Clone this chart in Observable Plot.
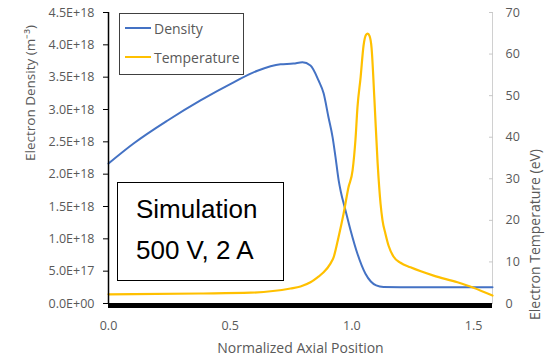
<!DOCTYPE html>
<html>
<head>
<meta charset="utf-8">
<script src="https://cdn.jsdelivr.net/npm/d3@7"></script>
<script src="https://cdn.jsdelivr.net/npm/@observablehq/plot@0.6"></script>
<style>
  html, body { margin: 0; padding: 0; background: #fff; }
  #wrap { position: relative; width: 545px; height: 364px; overflow: hidden; font-family: "Open Sans", sans-serif; }
  .legend { position: absolute; left: 119px; top: 13px; width: 123px; height: 60px; border: 1px solid #404040; background: #fff; }
  .legend .row { position: absolute; left: 5px; height: 20px; display: flex; align-items: center; font-size: 14px; color: #595959; }
  .legend .sw { width: 26px; height: 2px; margin-right: 3px; }
  .sim { position: absolute; left: 117px; top: 182px; width: 165px; height: 97px; border: 1.5px solid #000; background: #fff; font-family: "Liberation Sans", Arial, sans-serif; font-size: 26px; color: #000; }
  .sim div { position: absolute; left: 18px; white-space: nowrap; }
</style>
</head>
<body>
<div id="wrap"></div>
<script>
// ---- data ----
const densX = [0.0, 0.103, 0.243, 0.378, 0.514, 0.612, 0.707, 0.760, 0.797, 0.830, 0.863, 0.884, 0.904, 0.921, 0.933, 0.946, 0.954, 0.974, 0.995, 1.023, 1.056, 1.078, 1.100, 1.130, 1.27, 1.40, 1.578];
const densY = [2.165e18, 2.474e18, 2.83e18, 3.14e18, 3.42e18, 3.60e18, 3.70e18, 3.71e18, 3.73e18, 3.68e18, 3.45e18, 3.25e18, 2.88e18, 2.57e18, 2.26e18, 1.90e18, 1.74e18, 1.44e18, 1.13e18, 0.77e18, 0.46e18, 0.34e18, 0.28e18, 0.255e18, 0.25e18, 0.25e18, 0.25e18];
const tempX = [0.0, 0.378, 0.584, 0.748, 0.789, 0.830, 0.859, 0.884, 0.912, 0.925, 0.945, 0.966, 0.986, 1.003, 1.015, 1.023, 1.036, 1.048, 1.058, 1.065, 1.073, 1.081, 1.093, 1.106, 1.118, 1.126, 1.138, 1.151, 1.171, 1.200, 1.241, 1.336, 1.434, 1.500, 1.578];
const tempY = [2.2, 2.4, 2.6, 3.6, 4.1, 5.1, 6.3, 7.5, 9.6, 11.1, 15.9, 21.6, 27.9, 32.0, 39.5, 47.1, 54.4, 62.0, 64.6, 64.9, 64.3, 61.5, 48.8, 33.7, 24.0, 20.0, 16.8, 13.9, 11.3, 9.8, 8.7, 6.7, 5.1, 3.8, 1.9];
const seriesNames = ["Density", "Temperature"];
const seriesColors = ["#4472C4", "#FFC000"];
const densTicks = [0, 5e17, 1e18, 1.5e18, 2e18, 2.5e18, 3e18, 3.5e18, 4e18, 4.5e18];
const densTickLabels = ["0.0E+00", "5.0E+17", "1.0E+18", "1.5E+18", "2.0E+18", "2.5E+18", "3.0E+18", "3.5E+18", "4.0E+18", "4.5E+18"];
const tempTicks = [0, 10, 20, 30, 40, 50, 60, 70];
const xTicks = [0, 0.5, 1.0, 1.5];
const xTickLabels = ["0.0", "0.5", "1.0", "1.5"];
const xLabel = "Normalized Axial Position";
const yLeftLabel = "Electron Density (m\u207B\u00B3)";
const yRightLabel = "Electron Temperature (eV)";
const annotation = ["Simulation", "500 V, 2 A"];

// ---- build ----
const xMax = 1.578, yMax = 4.5e18, tMax = 70;
const k = yMax / tMax; // temperature -> density-axis units
const dens = densX.map((x, i) => ({x, y: densY[i]}));
const temp = tempX.map((x, i) => ({x, y: tempY[i] * k}));
const densLabel = new Map(densTicks.map((v, i) => [v, densTickLabels[i]]));
const xLab = new Map(xTicks.map((v, i) => [v, xTickLabels[i]]));
const gray = "#595959";

const chart = Plot.plot({
  width: 545, height: 364,
  marginLeft: 108, marginRight: 53, marginTop: 12, marginBottom: 61,
  style: {fontFamily: "'Open Sans', sans-serif", background: "#fff"},
  x: {domain: [0, xMax], axis: null},
  y: {domain: [0, yMax], axis: null},
  marks: [
    Plot.ruleX([xMax], {stroke: "#d0d0d0", strokeWidth: 1}),
    Plot.axisY({anchor: "right", ticks: tempTicks.map(t => t * k), tickSize: 4, dx: -4, text: null, stroke: "#c8c8c8", label: null}),
    Plot.axisY({anchor: "right", ticks: tempTicks.map(t => t * k), tickFormat: v => String(Math.round(v / k)), tickSize: 0, tickPadding: 13, fontSize: 12.5, fill: gray, label: null}),
    Plot.axisY({anchor: "left", ticks: densTicks, tickSize: 5, text: null, stroke: "#000", label: null}),
    Plot.axisY({anchor: "left", ticks: densTicks, tickFormat: v => densLabel.get(v), tickSize: 0, tickPadding: 14, fontSize: 12.5, fill: gray, label: null}),
    Plot.axisX({ticks: xTicks, tickFormat: v => xLab.get(v), tickSize: 0, tickPadding: 18, fontSize: 12.5, fill: gray, label: null}),
    Plot.line(dens, {x: "x", y: "y", stroke: seriesColors[0], strokeWidth: 2, curve: "monotone-x"}),
    Plot.line(temp, {x: "x", y: "y", stroke: seriesColors[1], strokeWidth: 2.2, curve: "monotone-x"}),
    Plot.ruleX([0], {stroke: "#000", strokeWidth: 1.5}),
    Plot.ruleY([0], {stroke: "#000", strokeWidth: 5, dy: 2}),
    Plot.text([xLabel], {frameAnchor: "bottom", dy: 49, fontSize: 14, fill: gray}),
    Plot.text([yLeftLabel], {frameAnchor: "left", dx: -78, dy: 3, rotate: -90, fontSize: 13.5, fill: gray}),
    Plot.text([yRightLabel], {frameAnchor: "right", dx: 43, dy: -9, rotate: -90, fontSize: 14, fill: gray})
  ]
});

const wrap = document.getElementById("wrap");
wrap.appendChild(chart);

const legend = document.createElement("div");
legend.className = "legend";
seriesNames.forEach((name, i) => {
  const row = document.createElement("div");
  row.className = "row";
  row.style.top = (i === 0 ? 4 : 33) + "px";
  const sw = document.createElement("span");
  sw.className = "sw";
  sw.style.background = seriesColors[i];
  row.appendChild(sw);
  row.appendChild(document.createTextNode(name));
  legend.appendChild(row);
});
wrap.appendChild(legend);

const sim = document.createElement("div");
sim.className = "sim";
annotation.forEach((t, i) => {
  const d = document.createElement("div");
  d.textContent = t;
  d.style.top = (i === 0 ? 11 : 52) + "px";
  sim.appendChild(d);
});
wrap.appendChild(sim);
</script>
</body>
</html>
